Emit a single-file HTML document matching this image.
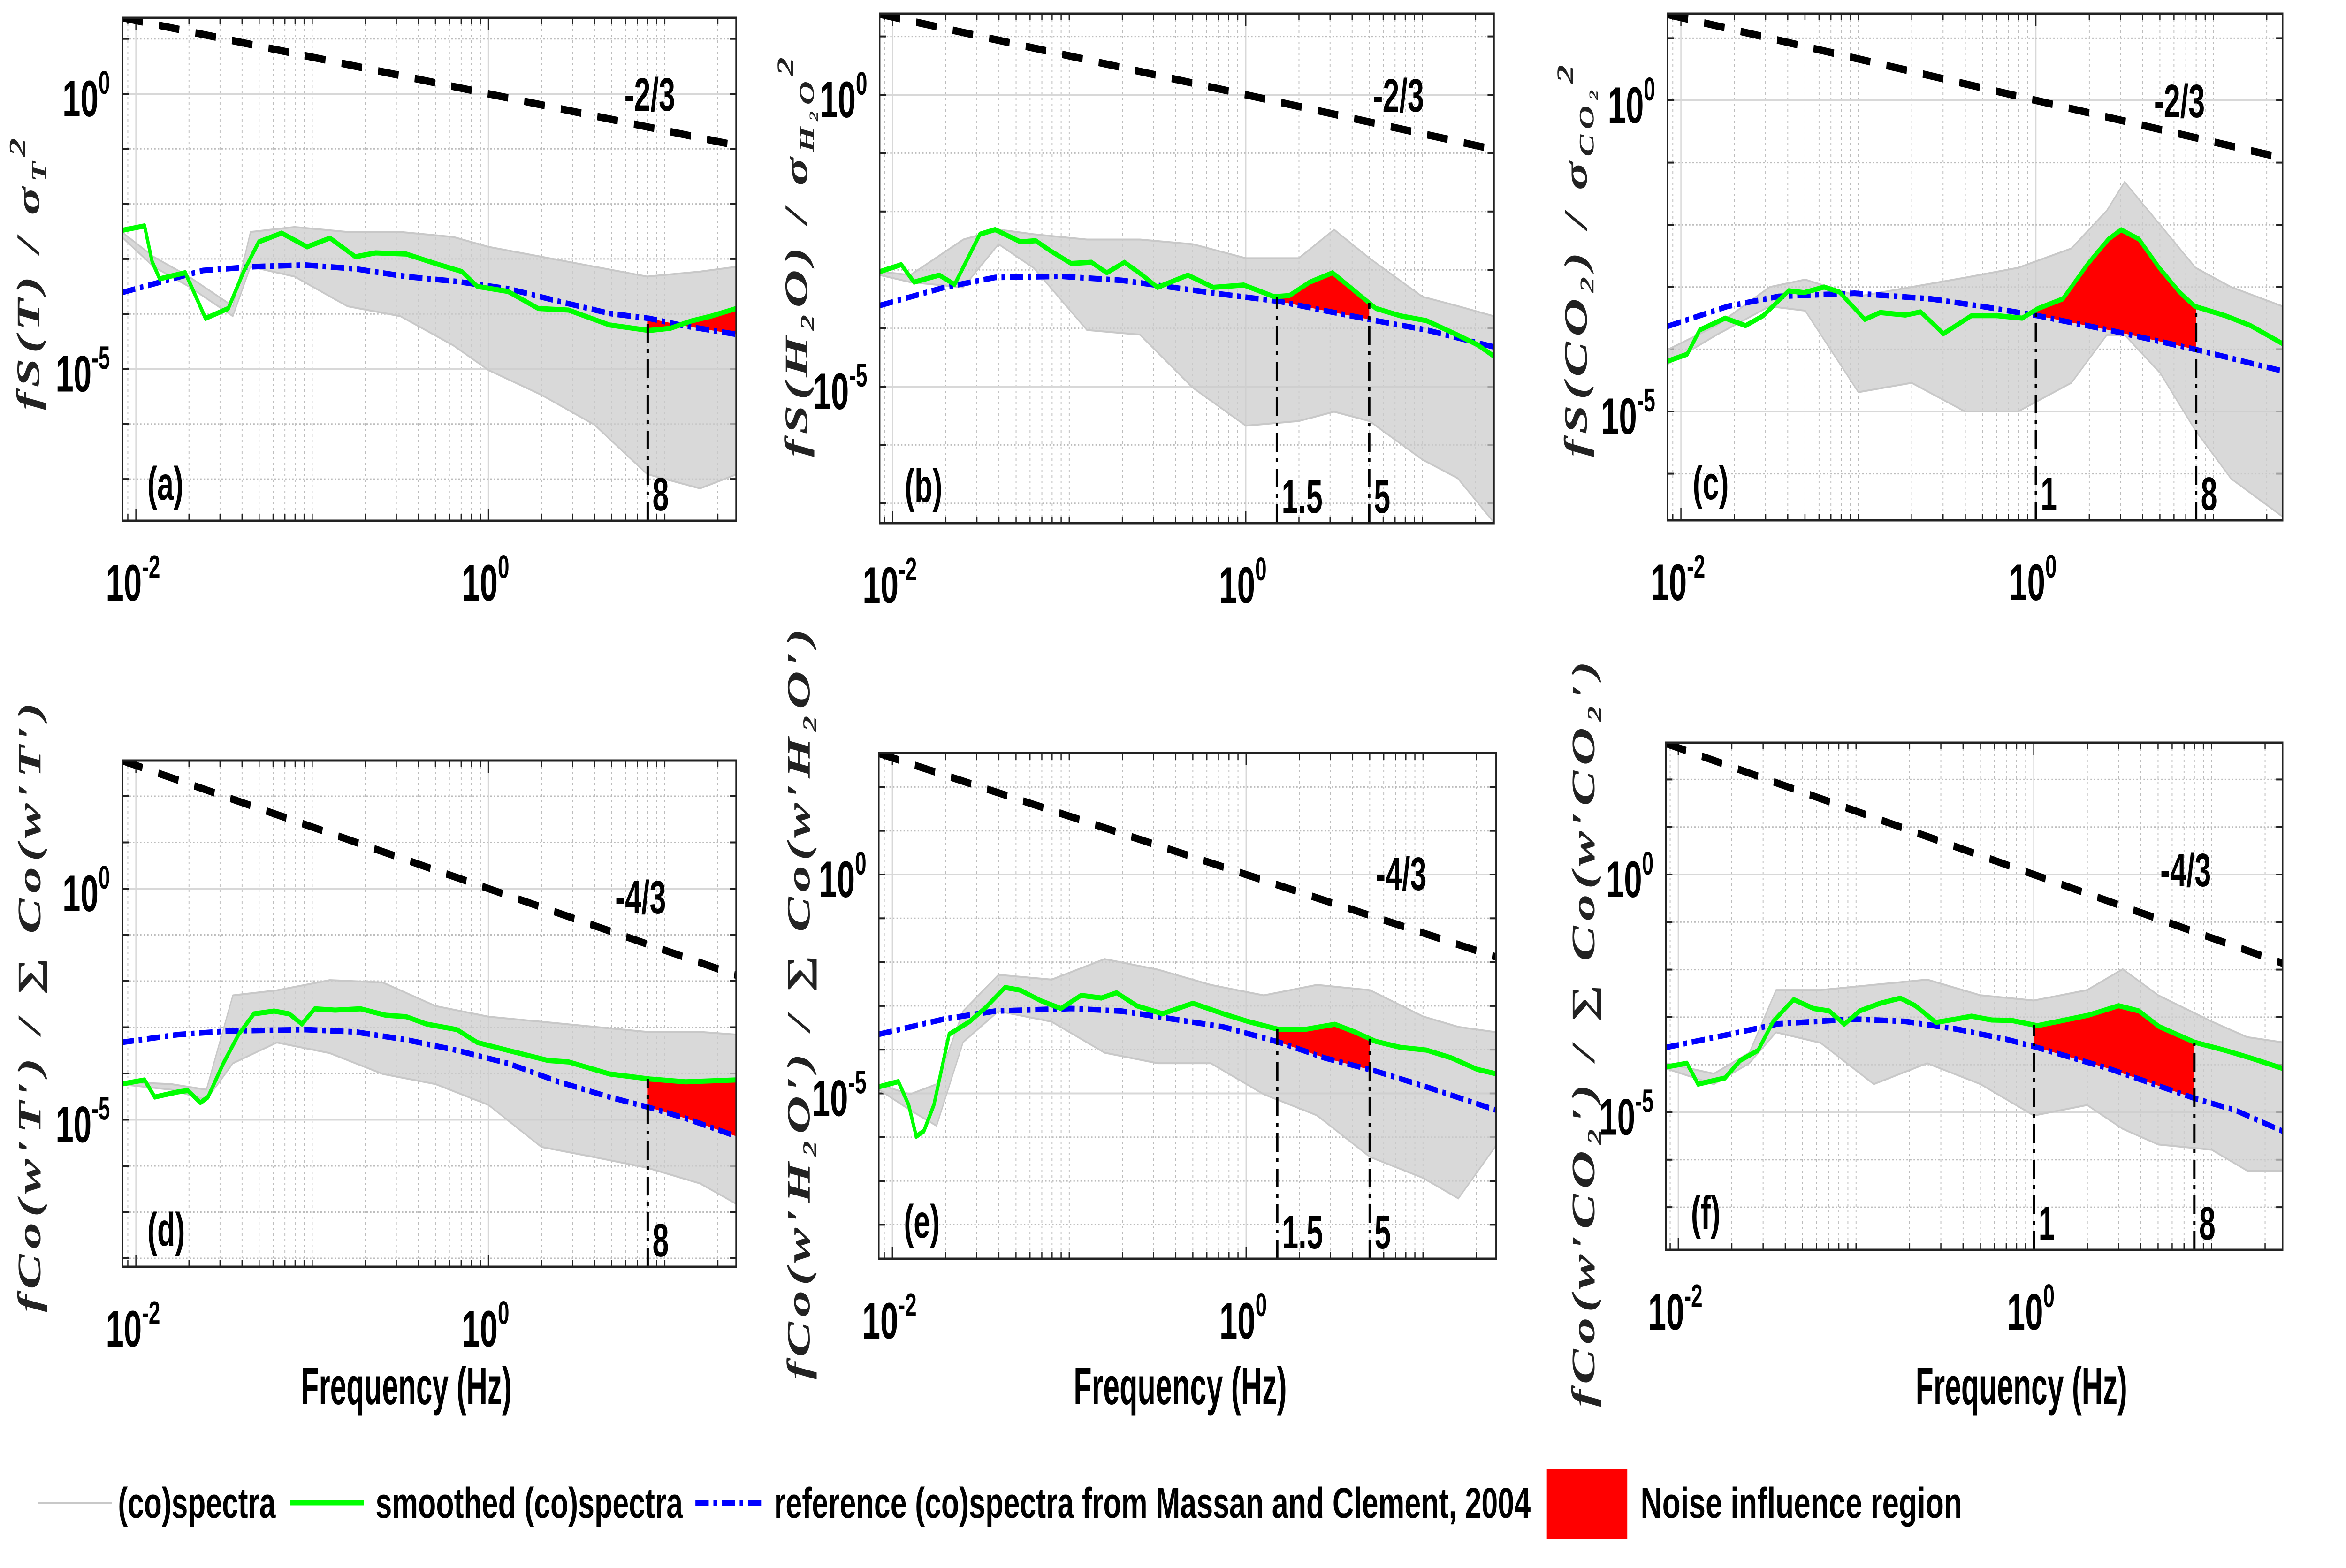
<!DOCTYPE html>
<html><head><meta charset="utf-8"><style>
html,body{margin:0;padding:0;background:#fff;overflow:hidden;width:100vw;height:100vh;}
svg{display:block;width:100vw;height:100vh;}
.t{font-family:"Liberation Sans Narrow","Liberation Sans",sans-serif;font-weight:bold;fill:#000;}
.yl{font-family:"Liberation Serif","DejaVu Serif",serif;font-weight:bold;font-style:italic;fill:#222;}
</style></head>
<body>
<svg id="fig" xmlns="http://www.w3.org/2000/svg" viewBox="0 0 7958 3342" preserveAspectRatio="none">
<rect x="0" y="0" width="7958" height="3342" fill="#fff"/>
<g>
  <line x1="129" y1="3203" x2="379" y2="3203" stroke="#c8c8c8" stroke-width="4"/>
  <text class="t" x="400" y="3235" font-size="92" textLength="535" lengthAdjust="spacingAndGlyphs">(co)spectra</text>
  <line x1="985" y1="3203" x2="1235" y2="3203" stroke="#00ff00" stroke-width="11"/>
  <text class="t" x="1274" y="3235" font-size="92" textLength="1042" lengthAdjust="spacingAndGlyphs">smoothed (co)spectra</text>
  <line x1="2359" y1="3203" x2="2592" y2="3203" stroke="#0000ff" stroke-width="12" stroke-dasharray="45 16 12 16"/>
  <text class="t" x="2626" y="3235" font-size="92" textLength="2566" lengthAdjust="spacingAndGlyphs">reference (co)spectra from Massan and Clement, 2004</text>
  <rect x="5247" y="3131" width="273" height="150" fill="#ff0000"/>
  <text class="t" x="5565" y="3235" font-size="92" textLength="1091" lengthAdjust="spacingAndGlyphs">Noise  influence region</text>
</g>
</svg>
<script>
// ---------- Panel (a) data (log10 frequency / log10 value) ----------
const aGrayLogF=[-2.08,-1.9,-1.7,-1.45,-1.35,-1.1,-0.8,-0.5,-0.2,0.0,0.3,0.6,0.9,1.2,1.41];
const aGrayHi=[-2.51,-2.96,-3.32,-3.86,-2.51,-2.42,-2.51,-2.51,-2.60,-2.78,-2.96,-3.14,-3.32,-3.23,-3.14];
const aGrayLo=[-2.60,-3.14,-3.50,-4.04,-3.14,-3.32,-3.86,-4.04,-4.57,-5.02,-5.47,-6.01,-6.91,-7.17,-6.91];
const aGreenLogF=[-2.078,-1.951,-1.908,-1.865,-1.720,-1.605,-1.476,-1.389,-1.303,-1.173,-1.029,-0.899,-0.755,-0.640,-0.467,-0.294,-0.150,-0.063,0.110,0.282,0.455,0.686,0.911,1.032,1.147,1.262,1.406];
const aGreenV=[-2.48,-2.40,-3.05,-3.36,-3.25,-4.08,-3.90,-3.23,-2.69,-2.53,-2.78,-2.62,-2.96,-2.89,-2.91,-3.09,-3.23,-3.50,-3.59,-3.90,-3.93,-4.20,-4.30,-4.26,-4.13,-4.04,-3.90];
const aRefLogF=[-2.078,-1.620,-1.331,-1.043,-0.755,-0.467,-0.179,0.110,0.398,0.686,0.911,1.118,1.406];
const aRefV=[-3.61,-3.21,-3.14,-3.11,-3.18,-3.32,-3.41,-3.54,-3.77,-3.99,-4.08,-4.22,-4.37];
const aMarkers=[8];
// ---------- Panel (b) ----------
const bGrayLogF=[-2.07,-1.9,-1.6,-1.4,-1.2,-0.9,-0.6,-0.3,0,0.3,0.5,0.7,1.0,1.2,1.4];
const bGrayHi=[-3.03,-3.09,-2.48,-2.31,-2.39,-2.48,-2.48,-2.56,-2.80,-2.80,-2.31,-2.80,-3.46,-3.62,-3.79];
const bGrayLo=[-3.09,-3.21,-3.30,-2.56,-2.97,-4.03,-4.11,-5.02,-5.67,-5.59,-5.43,-5.59,-6.25,-6.57,-7.31];
const bGreenLogF=[-2.072,-1.951,-1.879,-1.736,-1.649,-1.506,-1.420,-1.276,-1.190,-1.103,-0.989,-0.874,-0.787,-0.687,-0.586,-0.500,-0.328,-0.184,-0.011,0.161,0.247,0.362,0.491,0.592,0.736,0.879,1.023,1.195,1.310,1.405];
const bGreenV=[-3.03,-2.91,-3.21,-3.09,-3.25,-2.39,-2.31,-2.52,-2.50,-2.68,-2.89,-2.87,-3.05,-2.87,-3.09,-3.30,-3.09,-3.30,-3.26,-3.46,-3.44,-3.21,-3.05,-3.30,-3.66,-3.79,-3.87,-4.11,-4.28,-4.48];
const bRefLogF=[-2.072,-1.707,-1.420,-1.046,-0.701,-0.414,-0.126,0.190,0.448,0.736,1.023,1.405];
const bRefV=[-3.61,-3.30,-3.13,-3.11,-3.18,-3.30,-3.42,-3.54,-3.70,-3.87,-4.03,-4.32];
const bMarkers=[1.5,5];
// ---------- Panel (c) ----------
const cGrayLogF=[-2.07,-1.8,-1.5,-1.3,-1.0,-0.7,-0.4,-0.1,0.2,0.4,0.5,0.7,0.9,1.1,1.39];
const cGrayHi=[-4.00,-3.62,-3.00,-2.88,-3.15,-3.00,-2.85,-2.69,-2.38,-1.77,-1.31,-2.00,-2.69,-3.00,-3.31];
const cGrayLo=[-4.23,-3.77,-3.31,-3.38,-4.69,-4.54,-5.00,-5.00,-4.54,-3.77,-3.77,-4.38,-5.31,-6.08,-6.69];
const cGreenLogF=[-2.074,-1.965,-1.894,-1.751,-1.636,-1.536,-1.393,-1.307,-1.193,-1.107,-0.964,-0.878,-0.735,-0.649,-0.521,-0.363,-0.220,-0.077,0.009,0.152,0.295,0.409,0.481,0.581,0.695,0.809,0.895,1.067,1.210,1.390];
const cGreenV=[-4.19,-4.08,-3.69,-3.50,-3.62,-3.46,-3.06,-3.09,-3.00,-3.08,-3.52,-3.41,-3.45,-3.40,-3.75,-3.46,-3.46,-3.50,-3.35,-3.19,-2.62,-2.23,-2.08,-2.23,-2.69,-3.08,-3.31,-3.46,-3.62,-3.91];
const cRefLogF=[-2.074,-1.736,-1.450,-1.021,-0.592,-0.306,0.009,0.409,0.895,1.390];
const cRefV=[-3.63,-3.31,-3.15,-3.10,-3.19,-3.31,-3.46,-3.69,-4.00,-4.35];
const cMarkers=[1,8];
// ---------- Panel (d) ----------
const dGrayLogF=[-2.09,-1.8,-1.6,-1.45,-1.2,-0.9,-0.6,-0.3,0,0.3,0.6,0.9,1.2,1.41];
const dGrayHi=[-4.18,-4.23,-4.35,-2.31,-2.20,-1.98,-2.03,-2.54,-2.77,-2.88,-2.99,-3.10,-3.10,-3.16];
const dGrayLo=[-4.23,-4.35,-4.57,-3.78,-3.33,-3.56,-4.01,-4.23,-4.68,-5.59,-5.81,-6.04,-6.38,-6.83];
const dGreenLogF=[-2.086,-1.951,-1.893,-1.764,-1.706,-1.634,-1.591,-1.504,-1.418,-1.331,-1.216,-1.130,-1.058,-0.986,-0.870,-0.726,-0.582,-0.467,-0.352,-0.179,-0.063,0.110,0.340,0.455,0.686,0.916,1.118,1.406];
const dGreenV=[-4.23,-4.14,-4.51,-4.40,-4.37,-4.63,-4.51,-3.78,-3.16,-2.71,-2.65,-2.71,-2.93,-2.60,-2.63,-2.60,-2.74,-2.77,-2.93,-3.05,-3.33,-3.50,-3.72,-3.75,-4.01,-4.12,-4.18,-4.14];
const dRefLogF=[-2.086,-1.764,-1.476,-1.043,-0.755,-0.467,-0.179,0.110,0.398,0.686,0.916,1.118,1.406];
const dRefV=[-3.33,-3.16,-3.08,-3.05,-3.10,-3.27,-3.50,-3.78,-4.18,-4.51,-4.74,-4.97,-5.36];
const dMarkers=[8];
// ---------- Panel (e) ----------
const eGrayLogF=[-2.08,-1.9,-1.75,-1.6,-1.4,-1.1,-0.8,-0.5,-0.2,0.1,0.4,0.7,1.0,1.2,1.41];
const eGrayHi=[-4.79,-5.02,-4.79,-3.12,-2.29,-2.40,-1.93,-2.17,-2.52,-2.76,-2.52,-2.64,-3.24,-3.48,-3.60];
const eGrayLo=[-4.90,-5.38,-5.74,-3.83,-3.12,-3.36,-4.07,-4.31,-4.31,-5.02,-5.50,-6.45,-6.93,-7.40,-6.21];
const eGreenLogF=[-2.077,-1.966,-1.908,-1.865,-1.822,-1.765,-1.679,-1.564,-1.478,-1.363,-1.277,-1.162,-1.047,-0.933,-0.818,-0.732,-0.617,-0.473,-0.301,-0.129,0.014,0.187,0.330,0.502,0.617,0.732,0.875,1.019,1.162,1.306,1.412];
const eGreenV=[-4.85,-4.73,-5.26,-5.98,-5.86,-5.26,-3.65,-3.36,-3.06,-2.58,-2.64,-2.88,-3.06,-2.76,-2.82,-2.70,-3.00,-3.18,-2.94,-3.18,-3.36,-3.54,-3.54,-3.42,-3.60,-3.81,-3.95,-4.01,-4.19,-4.45,-4.55];
const eRefLogF=[-2.077,-1.707,-1.420,-0.990,-0.703,-0.416,-0.129,0.187,0.445,0.732,1.019,1.412];
const eRefV=[-3.65,-3.30,-3.12,-3.06,-3.12,-3.30,-3.48,-3.83,-4.19,-4.49,-4.85,-5.38];
const eMarkers=[1.5,5];
// ---------- Panel (f) ----------
const fGrayLogF=[-2.07,-1.8,-1.6,-1.45,-1.2,-0.9,-0.6,-0.3,0,0.3,0.5,0.7,1.0,1.2,1.4];
const fGrayHi=[-3.97,-4.19,-3.75,-2.43,-2.43,-2.32,-2.21,-2.54,-2.65,-2.43,-1.99,-2.54,-3.09,-3.42,-3.53];
const fGrayLo=[-4.08,-4.41,-3.97,-3.32,-3.54,-4.41,-3.97,-4.41,-5.07,-4.85,-5.35,-5.68,-5.79,-6.23,-6.23];
const fGreenLogF=[-2.071,-1.951,-1.889,-1.737,-1.651,-1.551,-1.466,-1.351,-1.237,-1.151,-1.066,-0.980,-0.866,-0.751,-0.666,-0.551,-0.437,-0.351,-0.237,-0.123,0.020,0.163,0.306,0.477,0.591,0.706,0.906,1.077,1.220,1.400];
const fGreenV=[-4.05,-3.97,-4.41,-4.28,-3.91,-3.70,-3.09,-2.63,-2.82,-2.87,-3.15,-2.87,-2.71,-2.60,-2.76,-3.11,-3.04,-2.98,-3.06,-3.07,-3.18,-3.07,-2.96,-2.76,-2.87,-3.20,-3.53,-3.70,-3.86,-4.08];
const fRefLogF=[-2.071,-1.723,-1.437,-1.009,-0.723,-0.437,-0.151,0.020,0.420,0.906,1.134,1.400];
const fRefV=[-3.64,-3.37,-3.14,-3.04,-3.09,-3.25,-3.47,-3.64,-4.08,-4.71,-4.96,-5.40];
const fMarkers=[1,8];
// power-law slopes (dashed reference lines), amplitude 1 at f = 1 Hz
const topSlope=-2/3, bottomSlope=-4/3;
const slopeLabels=["-2/3","-4/3"];

const NS="http://www.w3.org/2000/svg";
const svg=document.getElementById('fig');
function mk(tag,attrs,parent){const e=document.createElementNS(NS,tag);for(const k in attrs)e.setAttribute(k,attrs[k]);(parent||svg).appendChild(e);return e;}
function interp(xs,ys,x){if(x<=xs[0])return ys[0];for(let i=1;i<xs.length;i++){if(x<=xs[i]){const t=(x-xs[i-1])/(xs[i]-xs[i-1]);return ys[i-1]+t*(ys[i]-ys[i-1]);}}return ys[ys.length-1];}

const panels=[
 {id:'a',L:415,R:2497,T:38,B:1110,x0:1657,dx:598,y0:200,dy:117.3,gf:aGrayLogF,gh:aGrayHi,gl:aGrayLo,sf:aGreenLogF,sv:aGreenV,rf:aRefLogF,rv:aRefV,mk:aMarkers,slope:topSlope,sl:slopeLabels[0],slx:2204,sly:200,yl:['fS(T) / σ',['T','sub'],['2','sup']],ylx:95,yly:584,yll:580,xl:null},
 {id:'b',L:2984,R:5068,T:29,B:1115,x0:4226,dx:599,y0:202,dy:124.4,gf:bGrayLogF,gh:bGrayHi,gl:bGrayLo,sf:bGreenLogF,sv:bGreenV,rf:bRefLogF,rv:bRefV,mk:bMarkers,slope:topSlope,sl:slopeLabels[0],slx:4744,sly:202,yl:['fS(H₂O) / σ',['H₂O','sub'],['2','sup']],ylx:2700,yly:548,yll:852,xl:null},
 {id:'c',L:5657,R:7743,T:29,B:1109,x0:6906,dx:602,y0:214,dy:132.6,gf:cGrayLogF,gh:cGrayHi,gl:cGrayLo,sf:cGreenLogF,sv:cGreenV,rf:cRefLogF,rv:cRefV,mk:cMarkers,slope:topSlope,sl:slopeLabels[0],slx:7393,sly:214,yl:['fS(CO₂) / σ',['CO₂','sub'],['2','sup']],ylx:5345,yly:556,yll:836,xl:null},
 {id:'d',L:415,R:2497,T:1621,B:2700,x0:1657,dx:598,y0:1894,dy:98.5,gf:dGrayLogF,gh:dGrayHi,gl:dGrayLo,sf:dGreenLogF,sv:dGreenV,rf:dRefLogF,rv:dRefV,mk:dMarkers,slope:bottomSlope,sl:slopeLabels[1],slx:2173,sly:1911,yl:["fCo(w′T′) / ∑ Co(w′T′)"],ylx:99,yly:2147,yll:1300,xl:[1021,1736]},
 {id:'e',L:2981,R:5075,T:1605,B:2683,x0:4227,dx:600,y0:1864,dy:93.3,gf:eGrayLogF,gh:eGrayHi,gl:eGrayLo,sf:eGreenLogF,sv:eGreenV,rf:eRefLogF,rv:eRefV,mk:eMarkers,slope:bottomSlope,sl:slopeLabels[1],slx:4753,sly:1861,yl:["fCo(w′H₂O′) / ∑ Co(w′H₂O′)"],ylx:2708,yly:2140,yll:1600,xl:[3642,4365]},
 {id:'f',L:5651,R:7743,T:1583,B:2664,x0:6899,dx:603,y0:1864,dy:101.3,gf:fGrayLogF,gh:fGrayHi,gl:fGrayLo,sf:fGreenLogF,sv:fGreenV,rf:fRefLogF,rv:fRefV,mk:fMarkers,slope:bottomSlope,sl:slopeLabels[1],slx:7414,sly:1853,yl:["fCo(w′CO₂′) / ∑ Co(w′CO₂′)"],ylx:5370,yly:2204,yll:1590,xl:[6498,7216]}
];

panels.forEach(p=>{
 const X=lf=>p.x0+p.dx*lf, Y=lv=>p.y0-p.dy*lv;
 const lfMin=(p.L-p.x0)/p.dx, lfMax=(p.R-p.x0)/p.dx;
 const lvMax=(p.y0-p.T)/p.dy, lvMin=(p.y0-p.B)/p.dy;
 const g=mk('g',{});
 
 
 const clip=mk('clipPath',{id:'clip-'+p.id},g);
 mk('rect',{x:p.L,y:p.T,width:p.R-p.L,height:p.B-p.T},clip);
 const grid=mk('g',{},g);
 
 
 for(let d=-3;d<=2;d++)for(let m=1;m<=9;m++){
  const lf=d+Math.log10(m); if(lf<=lfMin||lf>=lfMax)continue;
  const major=(m===1&&(d===-2||d===0));
  mk('line',{x1:X(lf),x2:X(lf),y1:p.T,y2:p.B,stroke:major?'#d8d8d8':'#bcbcbc','stroke-width':major?4:3,'stroke-dasharray':major?'none':'5 7'},grid);
  const tl=major?26:14;
  mk('line',{x1:X(lf),x2:X(lf),y1:p.B,y2:p.B-tl,stroke:'#222','stroke-width':4},grid);
  mk('line',{x1:X(lf),x2:X(lf),y1:p.T,y2:p.T+tl,stroke:'#222','stroke-width':4},grid);
 }
 for(let d=Math.ceil(lvMin);d<=Math.floor(lvMax);d++){
  const major=(d===0||d===-5);
  mk('line',{x1:p.L,x2:p.R,y1:Y(d),y2:Y(d),stroke:major?'#d8d8d8':'#bcbcbc','stroke-width':major?4:3,'stroke-dasharray':major?'none':'5 7'},grid);
  mk('line',{x1:p.L,x2:p.L+22,y1:Y(d),y2:Y(d),stroke:'#222','stroke-width':4},grid);
  mk('line',{x1:p.R,x2:p.R-22,y1:Y(d),y2:Y(d),stroke:'#222','stroke-width':4},grid);
 }
 const plot=mk('g',{'clip-path':'url(#clip-'+p.id+')'},g);
 let pts=[];
 p.gf.forEach((lf,i)=>pts.push(X(lf)+','+Y(p.gh[i])));
 for(let i=p.gf.length-1;i>=0;i--)pts.push(X(p.gf[i])+','+Y(p.gl[i]));
 const gray=mk('polygon',{points:pts.join(' '),fill:'#cccccc','fill-opacity':0.75,stroke:'#c8c8c8','stroke-width':4,'stroke-linejoin':'round'},plot);
 
 
 const m0=Math.log10(p.mk[0]);
 const m1=p.mk.length>1?Math.log10(p.mk[1]):lfMax;
 let rp=[];
 const xs=[m0];p.sf.forEach(lf=>{if(lf>m0&&lf<m1)xs.push(lf);});xs.push(m1);
 xs.forEach(lf=>rp.push(X(lf)+','+Y(interp(p.sf,p.sv,lf))));
 const xr=[m0];p.rf.forEach(lf=>{if(lf>m0&&lf<m1)xr.push(lf);});xr.push(m1);
 for(let i=xr.length-1;i>=0;i--)rp.push(X(xr[i])+','+Y(interp(p.rf,p.rv,xr[i])));
 const red=mk('polygon',{points:rp.join(' '),fill:'#ff0000'},plot);
 
 
 const ref=mk('polyline',{points:p.rf.map((lf,i)=>X(lf)+','+Y(p.rv[i])).join(' '),fill:'none',stroke:'#0000ff','stroke-width':12,'stroke-dasharray':'45 16 12 16'},plot);
 
 
 const gr=mk('polyline',{points:p.sf.map((lf,i)=>X(lf)+','+Y(p.sv[i])).join(' '),fill:'none',stroke:'#00ff00','stroke-width':11,'stroke-linejoin':'round'},plot);
 
 
 const pl=mk('line',{x1:X(lfMin),y1:Y(p.slope*lfMin),x2:X(lfMax),y2:Y(p.slope*lfMax),stroke:'#000','stroke-width':16,'stroke-dasharray':'70 55'},plot);
 
 
 p.mk.forEach((fv,i)=>{
  const lf=Math.log10(fv);
  const top=Math.max(interp(p.sf,p.sv,lf),interp(p.rf,p.rv,lf));
  const ml=mk('line',{x1:X(lf),x2:X(lf),y1:p.B,y2:Y(top),stroke:'#000','stroke-width':8,'stroke-dasharray':'40 14 8 14'},plot);
  
  
  const mt=mk('text',{class:'t',x:X(lf)+16,y:p.B-22,'font-size':100},g);
  mt.textContent=String(fv);
  
  
 });
 const box=mk('rect',{x:p.L,y:p.T,width:p.R-p.L,height:p.B-p.T,fill:'none',stroke:'#222','stroke-width':5},g);
 
 
 const st=mk('text',{class:'t',x:p.slx,y:p.sly+36,'text-anchor':'middle','font-size':100},g);
 st.textContent=p.sl;
 
 
 const pt=mk('text',{class:'t',x:p.L+85,y:p.B-45,'font-size':100},g);
 pt.textContent='('+p.id+')';
 
 
 [-2,0].forEach(e=>{
  const t=mk('text',{class:'t',x:X(e)-10,y:p.B+170,'text-anchor':'middle','font-size':110},g);
  t.textContent='10';
  const s=mk('tspan',{dy:-48,'font-size':70},t);s.textContent=String(e);
  
  
 });
 [0,-5].forEach(e=>{
  const t=mk('text',{class:'t',x:p.L-42,y:Y(e)+48,'text-anchor':'end','font-size':110},g);
  t.textContent='10';
  const s=mk('tspan',{dy:-48,'font-size':70},t);s.textContent=String(e);
  
  
 });
 const yt=mk('text',{class:'yl',transform:'translate('+(p.ylx+38)+','+p.yly+') rotate(-90)','text-anchor':'middle','font-size':112,textLength:p.yll},g);
 p.yl.forEach(part=>{
  if(typeof part==='string'){const s=mk('tspan',{},yt);s.textContent=part;}
  else if(part[1]==='sub'){const s=mk('tspan',{dy:22,'font-size':70},yt);s.textContent=part[0];}
  else{const s=mk('tspan',{dy:-70,'font-size':80},yt);s.textContent=part[0];}
 });
 
 
 if(p.xl){
  const xt=mk('text',{class:'t',x:p.xl[0],y:2993,'font-size':112,textLength:p.xl[1]-p.xl[0],lengthAdjust:'spacingAndGlyphs'},g);
  xt.textContent='Frequency (Hz)';
  
  
 }
});
</script>
</body></html>
